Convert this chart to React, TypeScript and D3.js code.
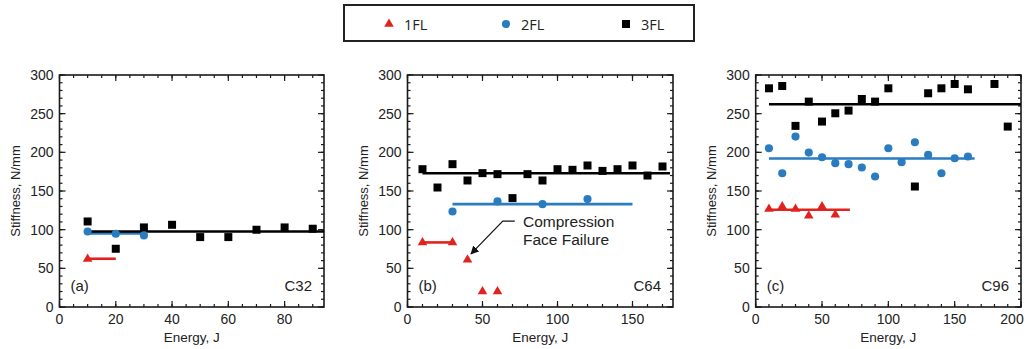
import * as d3 from 'd3'

// energies (J) and stiffness (N/mm)
const aE3 = [10, 20, 30, 40, 50, 60, 70, 80, 90]
const aS3 = [110.6, 75.3, 102.9, 106.3, 90.4, 90.4, 99.9, 102.9, 101.2]
const aE2 = [10, 20, 30]
const aS2 = [97.7, 94.7, 92.6]
const aE1 = [10]
const aS1 = [62]

const bE3 = [10, 20, 30, 40, 50, 60, 70, 80, 90, 100, 110, 120, 130, 140, 150, 160, 170]
const bS3 = [178.2, 154.5, 184.7, 163.6, 173.1, 171.8, 140.8, 171.8, 163.6, 178.2, 177.4, 183, 176, 178.2, 183, 170, 181.7]
const bE2 = [30, 60, 90, 120]
const bS2 = [123.5, 136.5, 133, 139.5]
const bE1 = [10, 30, 40, 50, 60]
const bS1 = [83.5, 83.5, 61, 20, 20]

const cE3 = [10, 20, 30, 40, 50, 60, 70, 80, 90, 100, 120, 130, 140, 150, 160, 180, 190]
const cS3 = [282.8, 285.8, 234.2, 265.6, 239.8, 250.5, 254, 269, 265.6, 282.8, 155.8, 276.4, 282.8, 288.4, 281.5, 288.4, 233.3]
const cE2 = [10, 20, 30, 40, 50, 60, 70, 80, 90, 100, 110, 120, 130, 140, 150, 160]
const cS2 = [205.3, 173, 220.4, 199.7, 193.7, 186, 184.7, 180.4, 168.7, 205.3, 187.3, 213, 196.7, 173, 192.4, 194.6]
const cE1 = [10, 20, 30, 40, 50, 60]
const cS1 = [126.6, 130, 126.6, 118, 130, 119.2]

// average lines: [from energy, to energy, stiffness]
const aFit3 = [10, 94, 97.7]
const aFit2 = [10, 30, 95.2]
const aFit1 = [10, 20, 62.4]
const bFit3 = [10, 175, 173]
const bFit2 = [30, 150, 133]
const bFit1 = [10, 30, 83.5]
const cFit3 = [10, 200, 262.2]
const cFit2 = [10, 165, 192]
const cFit1 = [10, 71, 125.7]

const panelTags = ['(a)', '(b)', '(c)']
const panelNames = ['C32', 'C64', 'C96']
const xMaxes = [94, 177, 200]
const xMajor = [20, 50, 50]
const xMinor = [5, 10, 10]
const yTicks = [0, 50, 100, 150, 200, 250, 300]
const seriesNames = ['1FL', '2FL', '3FL']

const RED = '#e0231f'
const BLUE = '#2a7cc0'
const BLACK = '#000'
const AXIS = '#1a1a1a'
const FONT = '"Liberation Sans", Arial, sans-serif'

const zip = (xs: number[], ys: number[]) => xs.map((x, i) => ({ x, y: ys[i] }))

const panels = [
  { s1: zip(aE1, aS1), s2: zip(aE2, aS2), s3: zip(aE3, aS3), f1: aFit1, f2: aFit2, f3: aFit3, left: 59.5, right: 324 },
  { s1: zip(bE1, bS1), s2: zip(bE2, bS2), s3: zip(bE3, bS3), f1: bFit1, f2: bFit2, f3: bFit3, left: 407.5, right: 673 },
  { s1: zip(cE1, cS1), s2: zip(cE2, cS2), s3: zip(cE3, cS3), f1: cFit1, f2: cFit2, f3: cFit3, left: 755.7, right: 1021 },
]

const top = 75
const bottom = 307

const tri = d3.symbol(d3.symbolTriangle, 40)()
const dot = d3.symbol(d3.symbolCircle, 52)()
const sq = d3.symbol(d3.symbolSquare, 64)()

function Panel({ i }: { i: number }) {
  const p = panels[i]
  const x = d3.scaleLinear().domain([0, xMaxes[i]]).range([p.left, p.right])
  const y = d3.scaleLinear().domain([0, 300]).range([bottom, top])
  const xMinorTicks = d3.range(0, xMaxes[i] + 0.01, xMinor[i])
  const xMajorTicks = d3.range(0, xMaxes[i] + 0.01, xMajor[i])
  const yMinorTicks = d3.range(0, 301, 10)
  const fit = (f: number[], color: string) => (
    <line x1={x(f[0])} x2={x(Math.min(f[1], xMaxes[i]))} y1={y(f[2])} y2={y(f[2])} stroke={color} strokeWidth={2.6} />
  )
  const midX = (p.left + p.right) / 2
  return (
    <g>
      {/* ticks on all four sides, pointing in */}
      {xMinorTicks.map(t => (
        <g key={'xm' + t}>
          <line x1={x(t)} x2={x(t)} y1={bottom} y2={bottom - 3} stroke={AXIS} strokeWidth={1.2} />
          <line x1={x(t)} x2={x(t)} y1={top} y2={top + 3} stroke={AXIS} strokeWidth={1.2} />
        </g>
      ))}
      {xMajorTicks.map(t => (
        <g key={'xM' + t}>
          <line x1={x(t)} x2={x(t)} y1={bottom} y2={bottom - 6} stroke={AXIS} strokeWidth={1.2} />
          <line x1={x(t)} x2={x(t)} y1={top} y2={top + 6} stroke={AXIS} strokeWidth={1.2} />
          <text x={Math.min(x(t), 1012)} y={324} textAnchor="middle" fontSize={14} fill="#222" fontFamily={FONT}>{t}</text>
        </g>
      ))}
      {yMinorTicks.map(t => (
        <g key={'ym' + t}>
          <line x1={p.left} x2={p.left + 3} y1={y(t)} y2={y(t)} stroke={AXIS} strokeWidth={1.2} />
          <line x1={p.right} x2={p.right - 3} y1={y(t)} y2={y(t)} stroke={AXIS} strokeWidth={1.2} />
        </g>
      ))}
      {yTicks.map(t => (
        <g key={'yM' + t}>
          <line x1={p.left} x2={p.left + 6} y1={y(t)} y2={y(t)} stroke={AXIS} strokeWidth={1.2} />
          <line x1={p.right} x2={p.right - 6} y1={y(t)} y2={y(t)} stroke={AXIS} strokeWidth={1.2} />
          <text x={p.left - 6} y={y(t) + 5} textAnchor="end" fontSize={14} fill="#222" fontFamily={FONT}>{t}</text>
        </g>
      ))}
      <rect x={p.left} y={top} width={p.right - p.left} height={bottom - top} fill="none" stroke={AXIS} strokeWidth={1.6} />

      {fit(p.f2, BLUE)}
      {fit(p.f1, RED)}
      {fit(p.f3, BLACK)}
      {p.s3.map((d, k) => <path key={'s' + k} d={sq!} transform={`translate(${x(d.x)},${y(d.y)})`} fill={BLACK} />)}
      {p.s2.map((d, k) => <path key={'c' + k} d={dot!} transform={`translate(${x(d.x)},${y(d.y)})`} fill={BLUE} />)}
      {p.s1.map((d, k) => <path key={'t' + k} d={tri!} transform={`translate(${x(d.x)},${y(d.y)})`} fill={RED} />)}

      <text x={p.left + 11} y={290.5} fontSize={15} fill="#222" fontFamily={FONT}>{panelTags[i]}</text>
      <text x={p.right - 12} y={290.5} textAnchor="end" fontSize={15} fill="#222" fontFamily={FONT}>{panelNames[i]}</text>
      <text x={midX} y={342} textAnchor="middle" fontSize={13.5} fill="#222" fontFamily={FONT}>Energy, J</text>
      <text transform={`translate(${p.left - 40},${(top + bottom) / 2}) rotate(-90)`} textAnchor="middle" fontSize={13} fill="#222" fontFamily={FONT}>Stiffness, N/mm</text>

      {i === 1 && (() => {
        const tip = p.s1[2]
        const sx = x(71.5)
        const sy = y(111)
        const tx = x(tip.x) + 3.5
        const ty = y(tip.y) - 6
        return (
          <g>
            <defs>
              <marker id="arr" viewBox="0 0 10 10" refX="9" refY="5" markerWidth="7" markerHeight="7" orient="auto-start-reverse">
                <path d="M0,0 L10,5 L0,10 z" fill="#111" />
              </marker>
            </defs>
            <path d={`M${sx},${sy} L${sx - 12},${sy} L${tx},${ty}`} fill="none" stroke="#111" strokeWidth={1.2} markerEnd="url(#arr)" />
            <text x={x(77)} y={y(111) + 5.5} fontSize={15.5} fill="#222" fontFamily={FONT}>Compression</text>
            <text x={x(77)} y={y(111) + 23.5} fontSize={15.5} fill="#222" fontFamily={FONT}>Face Failure</text>
          </g>
        )
      })()}
    </g>
  )
}

export default function App() {
  const legendX = [389, 506, 626]
  const legendSyms = [tri, dot, sq]
  const legendColors = [RED, BLUE, BLACK]
  return (
    <svg width={1031} height={349} style={{ position: 'absolute', left: 0, top: 0, background: '#fff' }}>
      <rect x={344} y={5} width={350} height={36} fill="#fff" stroke="#222" strokeWidth={2} />
      {seriesNames.map((n, k) => (
        <g key={n}>
          <path d={legendSyms[k]!} transform={`translate(${legendX[k]},${24})`} fill={legendColors[k]} />
          <text x={legendX[k] + 15} y={29.5} fontSize={14.5} fill="#222" fontFamily='"Open Sans", sans-serif'>{n}</text>
        </g>
      ))}
      {panels.map((_, i) => <Panel key={i} i={i} />)}
    </svg>
  )
}
